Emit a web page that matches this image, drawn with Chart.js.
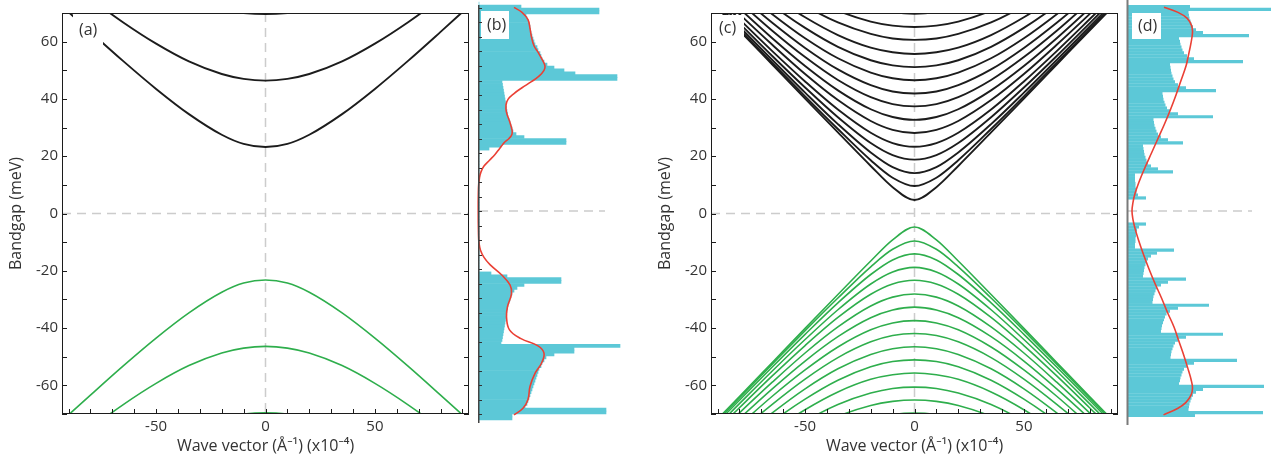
<!DOCTYPE html>
<html>
<head>
<meta charset="utf-8">
<script src="https://cdn.jsdelivr.net/npm/chart.js@4.4.1/dist/chart.umd.min.js"></script>
<style>
  html, body { margin: 0; padding: 0; background: #fff; }
  #wrap { position: relative; width: 1271px; height: 459px; overflow: hidden; }
  canvas { position: absolute; top: 0; }
</style>
</head>
<body>
<div id="wrap">
  <canvas id="panelA" width="476" height="459" style="left:0px"></canvas>
  <canvas id="panelB" width="166" height="459" style="left:474px"></canvas>
  <canvas id="panelC" width="475" height="459" style="left:649px"></canvas>
  <canvas id="panelD" width="148" height="459" style="left:1123px"></canvas>
</div>
<script>
// ---- axes ----
const xTickLabels = [-50, 0, 50];
const yTickLabels = [-60, -40, -20, 0, 20, 40, 60];
const xMinorTicks = [-90, -80, -70, -60, -50, -40, -30, -20, -10, 0, 10, 20, 30, 40, 50, 60, 70, 80, 90];
const yMinorTicks = [-70, -60, -50, -40, -30, -20, -10, 0, 10, 20, 30, 40, 50, 60, 70];
const dosTicks = [-70, -65, -60, -55, -50, -45, -40, -35, -30, -25, -20, -15, -10, -5, 0, 5, 10, 15, 20, 25, 30, 35, 40, 45, 50, 55, 60, 65, 70];

// ---- wave vector samples (x10^-4 1/A) ----
const kVals = [-92, -80, -65, -50, -35, -20, -10, 0, 10, 20, 35, 50, 65, 80, 92];

// ---- panel (a): subbands, meV ----
const condA = [
  [71.7, 63.4, 53.2, 43.5, 34.7, 27.5, 24.3, 23.2, 24.3, 27.5, 34.7, 43.5, 53.2, 63.4, 71.7],
  [82.2, 75.0, 66.7, 59.3, 53.1, 48.7, 47.0, 46.4, 47.0, 48.7, 53.1, 59.3, 66.7, 75.0, 82.2],
  [97.2, 91.2, 84.5, 78.8, 75.0, 71.1, 70.0, 69.6, 70.0, 71.1, 75.0, 78.8, 84.5, 91.2, 97.2]
];
const valA = [
  [-71.7, -63.4, -53.2, -43.5, -34.7, -27.5, -24.3, -23.2, -24.3, -27.5, -34.7, -43.5, -53.2, -63.4, -71.7],
  [-82.2, -75.0, -66.7, -59.3, -53.1, -48.7, -47.0, -46.4, -47.0, -48.7, -53.1, -59.3, -66.7, -75.0, -82.2],
  [-97.2, -91.2, -84.5, -78.8, -75.0, -71.1, -70.0, -69.6, -70.0, -71.1, -75.0, -78.8, -84.5, -91.2, -97.2]
];

// ---- panel (c): subbands, meV ----
const condC = [
  [73.3, 63.9, 52.0, 40.1, 28.3, 16.6, 9.2, 4.7, 9.2, 16.6, 28.3, 40.1, 52.0, 63.9, 73.3],
  [73.8, 64.4, 52.6, 40.9, 29.5, 18.6, 12.5, 9.6, 12.5, 18.6, 29.5, 40.9, 52.6, 64.4, 73.8],
  [74.5, 65.2, 53.6, 42.2, 31.2, 21.3, 16.2, 14.1, 16.2, 21.3, 31.2, 42.2, 53.6, 65.2, 74.5],
  [75.6, 66.4, 55.0, 44.0, 33.6, 24.6, 20.4, 18.8, 20.4, 24.6, 33.6, 44.0, 55.0, 66.4, 75.6],
  [76.8, 67.8, 56.7, 46.1, 36.3, 28.2, 24.6, 23.3, 24.6, 28.2, 36.3, 46.1, 56.7, 67.8, 76.8],
  [78.4, 69.6, 58.9, 48.7, 39.6, 32.3, 29.2, 28.1, 29.2, 32.3, 39.6, 48.7, 58.9, 69.6, 78.4],
  [80.2, 71.6, 61.2, 51.5, 43.0, 36.4, 33.7, 32.7, 33.7, 36.4, 43.0, 51.5, 61.2, 71.6, 80.2],
  [82.2, 73.9, 63.8, 54.6, 46.6, 40.6, 38.2, 37.4, 38.2, 40.6, 46.6, 54.6, 63.8, 73.9, 82.2],
  [84.3, 76.2, 66.6, 57.8, 50.3, 44.8, 42.6, 41.9, 42.6, 44.8, 50.3, 57.8, 66.6, 76.2, 84.3],
  [86.7, 78.8, 69.6, 61.2, 54.2, 49.2, 47.2, 46.5, 47.2, 49.2, 54.2, 61.2, 69.6, 78.8, 86.7],
  [89.3, 81.6, 72.7, 64.8, 58.2, 53.5, 51.7, 51.1, 51.7, 53.5, 58.2, 64.8, 72.7, 81.6, 89.3],
  [92.0, 84.6, 76.0, 68.5, 62.3, 57.9, 56.3, 55.7, 56.3, 57.9, 62.3, 68.5, 76.0, 84.6, 92.0],
  [95.0, 87.9, 79.7, 72.5, 66.7, 62.7, 61.1, 60.6, 61.1, 62.7, 66.7, 72.5, 79.7, 87.9, 95.0],
  [98.0, 91.1, 83.2, 76.3, 70.8, 67.0, 65.6, 65.1, 65.6, 67.0, 70.8, 76.3, 83.2, 91.1, 98.0],
  [101.0, 94.6, 87.0, 80.5, 75.1, 71.5, 70.2, 69.7, 70.2, 71.5, 75.1, 80.5, 87.0, 94.6, 101.0]
];
const valC = [
  [-73.3, -63.9, -52.0, -40.1, -28.3, -16.6, -9.2, -4.7, -9.2, -16.6, -28.3, -40.1, -52.0, -63.9, -73.3],
  [-73.8, -64.4, -52.6, -40.9, -29.5, -18.6, -12.5, -9.6, -12.5, -18.6, -29.5, -40.9, -52.6, -64.4, -73.8],
  [-74.5, -65.2, -53.6, -42.2, -31.2, -21.3, -16.2, -14.1, -16.2, -21.3, -31.2, -42.2, -53.6, -65.2, -74.5],
  [-75.6, -66.4, -55.0, -44.0, -33.6, -24.6, -20.4, -18.8, -20.4, -24.6, -33.6, -44.0, -55.0, -66.4, -75.6],
  [-76.8, -67.8, -56.7, -46.1, -36.3, -28.2, -24.6, -23.3, -24.6, -28.2, -36.3, -46.1, -56.7, -67.8, -76.8],
  [-78.4, -69.6, -58.9, -48.7, -39.6, -32.3, -29.2, -28.1, -29.2, -32.3, -39.6, -48.7, -58.9, -69.6, -78.4],
  [-80.2, -71.6, -61.2, -51.5, -43.0, -36.4, -33.7, -32.7, -33.7, -36.4, -43.0, -51.5, -61.2, -71.6, -80.2],
  [-82.2, -73.9, -63.8, -54.6, -46.6, -40.6, -38.2, -37.4, -38.2, -40.6, -46.6, -54.6, -63.8, -73.9, -82.2],
  [-84.3, -76.2, -66.6, -57.8, -50.3, -44.8, -42.6, -41.9, -42.6, -44.8, -50.3, -57.8, -66.6, -76.2, -84.3],
  [-86.7, -78.8, -69.6, -61.2, -54.2, -49.2, -47.2, -46.5, -47.2, -49.2, -54.2, -61.2, -69.6, -78.8, -86.7],
  [-89.3, -81.6, -72.7, -64.8, -58.2, -53.5, -51.7, -51.1, -51.7, -53.5, -58.2, -64.8, -72.7, -81.6, -89.3],
  [-92.0, -84.6, -76.0, -68.5, -62.3, -57.9, -56.3, -55.7, -56.3, -57.9, -62.3, -68.5, -76.0, -84.6, -92.0],
  [-95.0, -87.9, -79.7, -72.5, -66.7, -62.7, -61.1, -60.6, -61.1, -62.7, -66.7, -72.5, -79.7, -87.9, -95.0],
  [-98.0, -91.1, -83.2, -76.3, -70.8, -67.0, -65.6, -65.1, -65.6, -67.0, -70.8, -76.3, -83.2, -91.1, -98.0],
  [-101.0, -94.6, -87.0, -80.5, -75.1, -71.5, -70.2, -69.7, -70.2, -71.5, -75.1, -80.5, -87.0, -94.6, -101.0]
];

// ---- panel (b): DOS histogram, 1 meV bins from -71.5 upward ----
const binStartB = -71.5;
const dosB = [
  33, 33, 127, 127, 46, 48, 49, 50, 51, 52, 53, 54, 55, 56, 57, 58, 59, 60, 62, 63, 65, 67, 75, 95, 95, 141,
  22, 23, 23.5, 24, 24.5, 25, 25.5, 26, 26.5, 27, 27.5, 28, 28.5, 29, 30, 31, 32, 33, 35, 38, 45, 82, 82, 28, 12,
  0, 0, 0, 0, 0, 0, 0, 0, 0, 0, 0, 0, 0, 0, 0, 0, 0, 0, 0, 0, 0,
  0, 0, 0, 0, 0, 0, 0, 0, 0, 0, 0, 0, 0, 0, 0, 0, 0, 0, 0, 0, 0,
  10, 22, 87, 87, 45, 37, 34, 33, 32, 31, 30, 29, 28.5, 28, 27.5, 27, 26.5, 26, 25.5, 25, 24.5, 24, 23.5, 23,
  138, 138, 96, 85, 75, 68, 65, 63, 62, 61, 59, 58, 56, 55, 54, 53, 52, 51.5, 51, 50, 49, 48, 47, 120, 120, 42, 0
];
const smoothB_E = [-70.3, -68, -65, -60.5, -56, -52.5, -49, -46.5, -44, -41, -36.5, -33, -28.5, -25.5, -22, -18.5, -16, -13.5, -11, -8, 0,
  8, 11.5, 13.5, 15.5, 17.5, 19.5, 21.5, 23.5, 25, 26.5, 28, 31, 34, 36.5, 38.5, 40.5, 42.5, 44.5, 46.5, 48.5, 50, 52, 54.5, 57, 60, 63, 66, 68.5, 70.2];
const smoothB_W = [35, 44, 49, 51, 56, 62.5, 65, 59, 42, 30.5, 27.5, 28.5, 32.5, 31, 22.5, 11, 5, 1.5, 0, -0.5, -0.8,
  -0.5, 0.5, 2, 5, 10.5, 16, 20.5, 25, 30, 33, 33, 30.5, 27.5, 27, 29, 35, 43, 52, 60, 65, 66, 63.5, 59.5, 55, 52.5, 51, 49, 43, 35];

// ---- panel (d): DOS histogram, 1 meV bins from -70.5 upward ----
const binStartD = -70.5;
const dosD = [
  67, 135, 60.5, 61, 61.5, 62.5, 63.5, 65, 68, 75, 136, 51, 52, 52.5, 53.5, 54.5, 56, 59, 66, 109,
  42.5, 43, 43.5, 44.5, 45.5, 47, 50, 58, 95, 33, 33.5, 34, 35, 36, 37, 38.5, 42, 50, 81,
  24.5, 25, 25.5, 26.5, 27.5, 29, 33, 40, 58, 15, 15.5, 16, 16.5, 17.5, 18.5, 20, 23, 29, 46,
  7, 7, 7.5, 7.5, 8, 8.5, 9, 11, 18, 0, 0, 0, 0,
  0, 0, 0, 0, 18, 10, 8.5, 8, 7.5, 7.5, 7, 7, 7, 45, 30, 23, 20, 18.5, 17.5, 16.5, 16, 15.5, 15,
  55, 40, 33, 30, 28.5, 27.5, 26.5, 26, 25.5, 85, 50, 42, 39, 37.5, 36.5, 35.5, 35, 34.5,
  88, 58, 50, 47, 45.5, 44.5, 43.5, 43, 42.5, 42, 115, 66, 59, 56, 54.5, 53.5, 52.5, 52, 51,
  121, 75, 68, 65, 63.5, 62.5, 61.5, 61, 60.5, 143, 62
];
const smoothD_E = [-70.3, -68, -66, -63.5, -61, -58, -55, -50, -45, -40, -35, -30, -25, -20, -15, -10, -6, -3, 0,
  3, 6, 10, 15, 20, 25, 30, 35, 40, 45, 50, 53, 57, 60, 62, 64, 66.5, 68.5, 70.3];
const smoothD_W = [35.5, 50, 58, 63, 64.5, 63, 60.5, 56, 51, 46, 39.5, 33.5, 27, 21, 15.5, 10.5, 7, 5, 4,
  5, 7, 11, 17, 23.5, 30, 36.5, 42.5, 48, 53, 58, 60, 62.5, 64, 64.5, 63.5, 59, 50, 36];

// ---- style ----
const FONT = "'Open Sans', 'Noto Sans', sans-serif";
const TEXT = '#333333';
const BLACK_LINE = '#1c1c1c';
const GREEN_LINE = '#2eae4c';
const CYAN = '#5cc8d7';
const RED = '#ea4035';
const DASH = '#cccccc';

Chart.defaults.font.family = FONT;
Chart.defaults.color = TEXT;

function labelBox(ctx, x, y, w, h, text) {
    ctx.save();
    ctx.fillStyle = '#ffffff';
    ctx.fillRect(x, y, w, h);
    ctx.fillStyle = TEXT;
    ctx.font = '16px ' + FONT;
    ctx.textBaseline = 'middle';
    ctx.textAlign = 'left';
    ctx.fillText(text, x + 6, y + h / 2);
    ctx.restore();
}

function hLine(ctx, x1, y1, x2, y2) {
    ctx.beginPath();
    ctx.moveTo(x1, y1);
    ctx.lineTo(x2, y2);
    ctx.stroke();
}

function bandDecor(tag) {
    return {
        id: 'bandDecor',
        beforeDatasetsDraw(chart) {
            const {ctx, chartArea: a, scales: {x, y}} = chart;
            ctx.save();
            ctx.strokeStyle = DASH;
            ctx.lineWidth = 1.5;
            ctx.setLineDash([9, 6]);
            const y0 = y.getPixelForValue(0);
            const x0 = x.getPixelForValue(0);
            hLine(ctx, a.left, y0, a.right, y0);
            hLine(ctx, x0, a.top, x0, a.bottom);
            ctx.restore();
        },
        afterDatasetsDraw(chart) {
            const a = chart.chartArea;
            labelBox(chart.ctx, a.left + tag.dx, a.top + tag.dy, tag.w, tag.h, tag.text);
        },
        afterDraw(chart) {
            const {ctx, chartArea: a, scales: {x, y}} = chart;
            ctx.save();
            ctx.strokeStyle = BLACK_LINE;
            ctx.lineWidth = 1;
            ctx.strokeRect(a.left + 0.5, a.top + 0.5, a.right - a.left - 1, a.bottom - a.top - 1);
            yMinorTicks.forEach(v => {
                const p = Math.round(y.getPixelForValue(v)) + 0.5;
                hLine(ctx, a.left, p, a.left + 5, p);
                hLine(ctx, a.right - 5, p, a.right, p);
            });
            xMinorTicks.forEach(v => {
                const p = Math.round(x.getPixelForValue(v)) + 0.5;
                hLine(ctx, p, a.bottom, p, a.bottom - 5);
            });
            ctx.restore();
        }
    };
}

function curve(rows, color, width) {
    return rows.map(row => ({
        data: row.map((e, i) => ({ x: kVals[i], y: e })),
        showLine: true,
        borderColor: color,
        borderWidth: width,
        pointRadius: 0,
        cubicInterpolationMode: 'monotone'
    }));
}

function bandPanel(id, cond, val, padRight, tag) {
    new Chart(document.getElementById(id), {
        type: 'scatter',
        data: { datasets: [...curve(cond, BLACK_LINE, 1.9), ...curve(val, GREEN_LINE, 1.6)] },
        options: {
            responsive: false, animation: false, devicePixelRatio: 1,
            layout: { padding: { top: 8, right: padRight, left: 0, bottom: 0 } },
            plugins: { legend: { display: false }, tooltip: { enabled: false } },
            scales: {
                x: {
                    type: 'linear', min: -93, max: 93,
                    grid: { display: false, drawTicks: false }, border: { display: false },
                    afterBuildTicks: s => { s.ticks = xTickLabels.map(v => ({ value: v })); },
                    afterFit: s => { s.height = 45; },
                    ticks: { font: { size: 15 }, color: TEXT, padding: 4, maxRotation: 0 },
                    title: { display: true, text: 'Wave vector (Å⁻¹) (x10⁻⁴)', font: { size: 16 }, color: TEXT, padding: { top: 0, bottom: 3 } }
                },
                y: {
                    type: 'linear', min: -70, max: 70,
                    grid: { display: false, drawTicks: false }, border: { display: false },
                    afterBuildTicks: s => { s.ticks = yTickLabels.map(v => ({ value: v })); },
                    afterFit: s => { s.width = 62; },
                    ticks: { font: { size: 15 }, color: TEXT, padding: 4 },
                    title: { display: true, text: 'Bandgap (meV)', font: { size: 16 }, color: TEXT, padding: { top: 7, bottom: 0 } }
                }
            }
        },
        plugins: [bandDecor(tag)]
    });
}

function dosDecor(tag, axisStyle) {
    return {
        id: 'dosDecor',
        beforeDatasetsDraw(chart) {
            const {ctx, chartArea: a, scales: {y}} = chart;
            ctx.save();
            ctx.strokeStyle = DASH;
            ctx.lineWidth = 1.5;
            ctx.setLineDash([9, 6]);
            const y0 = y.getPixelForValue(0);
            hLine(ctx, a.left, y0, a.left + tag.dashLen, y0);
            ctx.restore();
        },
        afterDatasetsDraw(chart) {
            const a = chart.chartArea;
            labelBox(chart.ctx, a.left + tag.dx, a.top + tag.dy, tag.w, tag.h, tag.text);
        },
        afterDraw(chart) {
            const {ctx, chartArea: a, scales: {y}} = chart;
            ctx.save();
            ctx.strokeStyle = axisStyle.color;
            ctx.lineWidth = axisStyle.width;
            const ax = a.left - axisStyle.width / 2 + 0.5;
            hLine(ctx, ax, a.top - axisStyle.over[0], ax, a.bottom + axisStyle.over[1]);
            if (axisStyle.ticks) {
                ctx.lineWidth = 1;
                ctx.strokeStyle = '#333';
                dosTicks.forEach(v => {
                    const p = Math.round(y.getPixelForValue(v)) + 0.5;
                    hLine(ctx, a.left, p, a.left + 3, p);
                });
            }
            ctx.restore();
        }
    };
}

function dosPanel(id, binStart, dos, smE, smW, xMax, pad, catPct, barPct, tag, axisStyle) {
    new Chart(document.getElementById(id), {
        type: 'bar',
        data: {
            datasets: [
                {
                    type: 'line', indexAxis: 'y', order: 0,
                    data: smE.map((e, i) => ({ x: smW[i], y: e })),
                    borderColor: RED, borderWidth: 1.6, pointRadius: 0, tension: 0.4, clip: false
                },
                {
                    type: 'bar', order: 1,
                    data: dos.map((w, i) => ({ x: w, y: binStart + i })),
                    backgroundColor: CYAN, borderWidth: 0,
                    categoryPercentage: catPct, barPercentage: barPct, clip: false
                }
            ]
        },
        options: {
            indexAxis: 'y',
            responsive: false, animation: false, devicePixelRatio: 1,
            layout: { padding: pad },
            plugins: { legend: { display: false }, tooltip: { enabled: false } },
            scales: {
                x: { type: 'linear', min: 0, max: xMax, display: false, offset: false },
                y: { type: 'linear', min: -70, max: 70, display: false, offset: false }
            }
        },
        plugins: [dosDecor(tag, axisStyle)]
    });
}

bandPanel('panelA', condA, valA, 7, { text: '(a)', dx: 11, dy: 2, w: 30, h: 30 });
bandPanel('panelC', condC, valC, 6, { text: '(c)', dx: 2, dy: 2, w: 31, h: 27 });

dosPanel('panelB', binStartB, dosB, smoothB_E, smoothB_W, 151,
    { left: 5, right: 10, top: 8, bottom: 45 }, 1, 1,
    { text: '(b)', dx: 2, dy: 3, w: 28, h: 28, dashLen: 126 },
    { color: '#444444', width: 1.5, over: [3, 9], ticks: true });

dosPanel('panelD', binStartD, dosD, smoothD_E, smoothD_W, 143,
    { left: 5, right: 0, top: 8, bottom: 45 }, 1, 1.1,
    { text: '(d)', dx: 4, dy: 5, w: 29, h: 26, dashLen: 124 },
    { color: '#7a7a7a', width: 2, over: [8, 11], ticks: false });
</script>
</body>
</html>
